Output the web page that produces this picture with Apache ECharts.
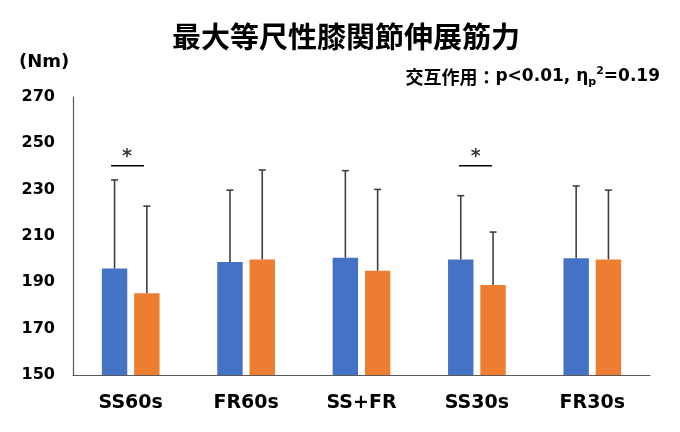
<!DOCTYPE html>
<html>
<head>
<meta charset="utf-8">
<script src="https://cdn.jsdelivr.net/npm/echarts@6/dist/echarts.min.js"></script>
<style>html,body{margin:0;padding:0;background:#fff;}#c{width:680px;height:432px;}</style>
</head>
<body>
<div id="c"></div>
<script>
const categories = ['SS60s', 'FR60s', 'SS+FR', 'SS30s', 'FR30s'];
const blueMean = [196.0, 198.8, 200.6, 199.9, 200.4];
const blueSD = [38.2, 31.0, 37.6, 27.5, 31.2];
const orangeMean = [185.3, 199.9, 195.0, 188.8, 199.9];
const orangeSD = [37.6, 38.6, 35.1, 22.9, 29.9];
const yTicks = [150, 170, 190, 210, 230, 250, 270];
// significance brackets: [x start, x end] in category units, y level, star x
const sigBrackets = [[0.33, 0.615], [3.345, 3.63]];
const sigStarX = [0.468, 3.49];
const sigY = 240.3;

const FONT = '"Noto Sans CJK JP", "DejaVu Sans", sans-serif';
const LATIN = '"DejaVu Sans", "Noto Sans CJK JP", sans-serif';
const BLUE = '#4472C4', ORANGE = '#ED7D31';
const GAP = 0.27;

function errItem(side, color) {
  return function (params, api) {
    const idx = api.value(0);
    const base = api.coord([idx, api.value(1)]);
    const top = api.coord([idx, api.value(2)]);
    const band = api.size([1, 0])[0];
    const w = band * 0.5 / (2 + GAP);
    const x = base[0] + side * w * (1 + GAP) / 2;
    const st = { stroke: color, lineWidth: 1.6 };
    return {
      type: 'group',
      children: [
        { type: 'line', shape: { x1: x, y1: base[1], x2: x, y2: top[1] }, style: st },
        { type: 'line', shape: { x1: x - 3.5, y1: top[1], x2: x + 3.5, y2: top[1] }, style: st }
      ]
    };
  };
}

const chart = echarts.init(document.getElementById('c'), null, { renderer: 'canvas' });
const series = [
  { type: 'bar', name: 'A', data: blueMean, itemStyle: { color: BLUE }, barGap: (GAP * 100) + '%', barCategoryGap: '50%', xAxisIndex: 0, yAxisIndex: 0 },
  { type: 'bar', name: 'B', data: orangeMean, itemStyle: { color: ORANGE }, xAxisIndex: 0, yAxisIndex: 0 },
  { type: 'custom', renderItem: errItem(-1, '#404040'), data: blueMean.map((m, i) => [i, m, m + blueSD[i]]), xAxisIndex: 0, yAxisIndex: 0, z: 5 },
  { type: 'custom', renderItem: errItem(1, '#404040'), data: orangeMean.map((m, i) => [i, m, m + orangeSD[i]]), xAxisIndex: 0, yAxisIndex: 0, z: 5 }
];
sigBrackets.forEach((b, k) => {
  series.push({
    type: 'line', xAxisIndex: 1, yAxisIndex: 0, symbol: 'none', silent: true,
    data: [[b[0], sigY], [b[1], sigY]],
    lineStyle: { color: '#000', width: 1.6 }, z: 6
  });
  series.push({
    type: 'scatter', xAxisIndex: 1, yAxisIndex: 0, symbolSize: 0, silent: true,
    data: [[sigStarX[k], sigY]],
    label: { show: true, position: 'top', distance: -1, formatter: '*', fontSize: 19, fontWeight: 'bold', color: '#000', fontFamily: LATIN },
    z: 6
  });
});

const sub = { fontFamily: LATIN, fontSize: 11, fontWeight: 'bold', color: '#000', lineHeight: 22 };
chart.setOption({
  animation: false,
  backgroundColor: '#fff',
  title: [
    { text: '最大等尺性膝関節伸展筋力', left: 341, top: 17, textAlign: 'center',
      textStyle: { fontFamily: FONT, fontSize: 29, fontWeight: 'bold', color: '#000' } },
    { text: '(Nm)', left: 14, top: 48,
      textStyle: { fontFamily: LATIN, fontSize: 18, fontWeight: 'bold', color: '#000' } },
    { text: '{c|交互作用：}{a|p<0.01, η}{s|p}{u|2}{a|=0.19}', right: 15, top: 61,
      textStyle: { fontFamily: LATIN, fontSize: 17, fontWeight: 'bold', color: '#000',
        rich: {
          c: { fontFamily: FONT, fontSize: 18, fontWeight: 'bold', color: '#000', lineHeight: 22 },
          a: { fontFamily: LATIN, fontSize: 17, fontWeight: 'bold', color: '#000', lineHeight: 22 },
          s: Object.assign({ verticalAlign: 'bottom' }, sub),
          u: Object.assign({ verticalAlign: 'top' }, sub)
        } } }
  ],
  grid: { left: 73, right: 30, top: 97, bottom: 57, containLabel: false },
  xAxis: [
    { type: 'category', data: categories, axisTick: { show: false },
      axisLine: { lineStyle: { color: '#595959', width: 1.2 } },
      axisLabel: { margin: 19, fontFamily: LATIN, fontSize: 19, fontWeight: 'bold', color: '#000' } },
    { type: 'value', min: 0, max: 5, show: false }
  ],
  yAxis: {
    type: 'value', min: yTicks[0], max: yTicks[yTicks.length - 1], interval: 20,
    axisLine: { show: true, lineStyle: { color: '#595959', width: 1.2 } },
    axisTick: { show: false }, splitLine: { show: false },
    axisLabel: { margin: 18, fontFamily: LATIN, fontSize: 16, fontWeight: 'bold', color: '#000' }
  },
  series: series
});
</script>
</body>
</html>
